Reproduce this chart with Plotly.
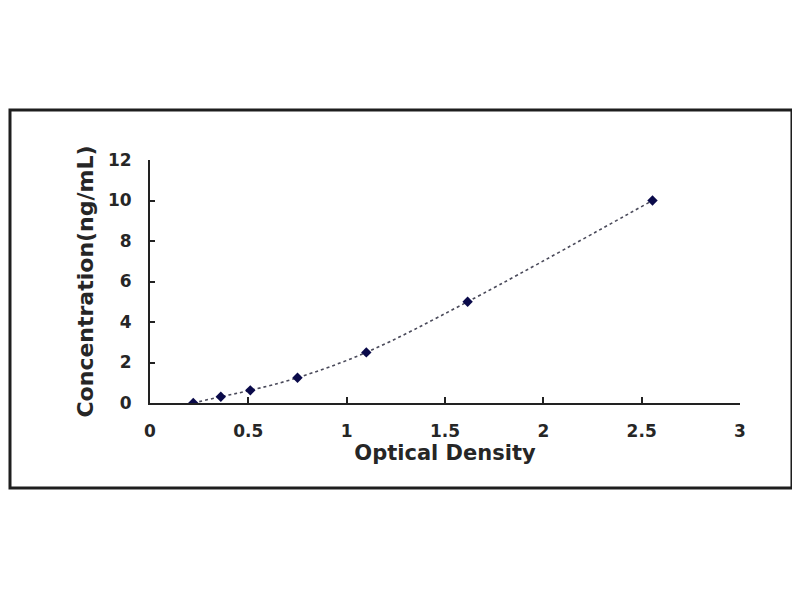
import plotly.graph_objects as go

# standard curve points
optical_density = [0.22, 0.36, 0.51, 0.75, 1.10, 1.615, 2.555]
concentration = [0.0, 0.312, 0.625, 1.25, 2.5, 5.0, 10.0]

x_ticks = [0, 0.5, 1, 1.5, 2, 2.5, 3]
x_tick_labels = ['0', '0.5', '1', '1.5', '2', '2.5', '3']
y_ticks = [0, 2, 4, 6, 8, 10, 12]

font_family = 'DejaVu Sans, Arial, sans-serif'

curve = go.Scatter(
    x=optical_density,
    y=concentration,
    mode='lines+markers',
    line=dict(color='#4a4a5a', width=1.6, dash='dot', shape='spline', smoothing=1),
    marker=dict(symbol='diamond', size=8, color='#0a0a4a'),
    cliponaxis=True,
    showlegend=False,
    hoverinfo='x+y')

# the page body adds 8px round the figure, so the margins are pulled in by 8
layout = go.Layout(
    width=800,
    height=600,
    paper_bgcolor='white',
    plot_bgcolor='white',
    margin=dict(l=142, r=68, t=152, b=205),
    font=dict(family=font_family, color='#262626'),
    xaxis=dict(
        range=[0, 3],
        tickvals=x_ticks,
        ticktext=x_tick_labels,
        ticks='inside',
        ticklen=6,
        tickwidth=1.5,
        tickcolor='#222',
        ticklabelstandoff=12,
        showline=True,
        linecolor='#222',
        linewidth=2,
        showgrid=False,
        zeroline=False,
        tickfont=dict(size=17, weight='bold'),
        title=dict(text='Optical Density', font=dict(size=21, weight='bold'), standoff=5),
    ),
    yaxis=dict(
        range=[0, 12],
        tickvals=y_ticks,
        ticks='inside',
        ticklen=5,
        tickwidth=1.5,
        tickcolor='#222',
        ticklabelstandoff=13,
        showline=True,
        linecolor='#222',
        linewidth=2,
        showgrid=False,
        zeroline=False,
        tickfont=dict(size=17, weight='bold'),
        title=dict(text='Concentration(ng/mL)', font=dict(size=22, weight='bold'), standoff=8),
    ),
    # outer frame round the whole chart
    shapes=[dict(
        type='rect',
        xref='paper', yref='paper',
        x0=-0.2373, x1=1.0881,
        y0=-0.35, y1=1.2058,
        line=dict(color='#1e1e1e', width=3),
        layer='below')],
)

fig = go.Figure(data=[curve], layout=layout)
fig.write_html("out.html")
